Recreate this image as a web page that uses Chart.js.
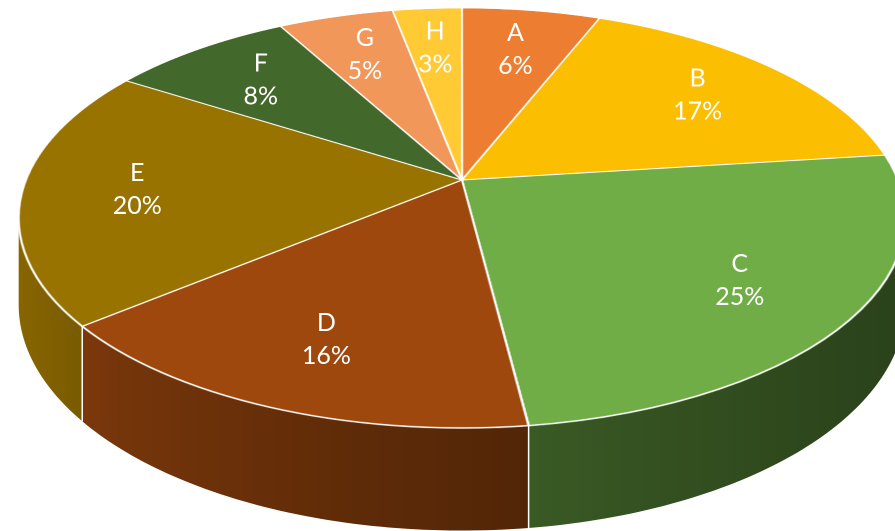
<!DOCTYPE html>
<html>
<head>
<meta charset="utf-8">
<script src="https://cdn.jsdelivr.net/npm/chart.js@4.4.1/dist/chart.umd.min.js"></script>
<style>
  html, body { margin: 0; padding: 0; background: #ffffff; }
  #wrap { width: 895px; height: 531px; position: relative; }
</style>
</head>
<body>
<div id="wrap"><canvas id="c" width="895" height="531"></canvas></div>
<script>
const categories = ['A', 'B', 'C', 'D', 'E', 'F', 'G', 'H'];
const shares = [6, 17, 25, 16, 20, 8, 5, 3];
const percentLabels = ['6%', '17%', '25%', '16%', '20%', '8%', '5%', '3%'];
const sliceColors = ['#ED7D31', '#FBBE00', '#70AD47', '#9E480E', '#997300', '#43682B', '#F1975A', '#FFCA33'];

// perspective view of the tilted disc (screen px)
const VIEW = { cx: 462, y0: 180, a: 436, b: 203.1, e: -0.181, depth: 84, labelR: 0.74 };

function project(u, v) {
  const w = 1 + VIEW.e * v;
  return [VIEW.cx + VIEW.a * u / w, VIEW.y0 + VIEW.b * v / w, w];
}
function hexToRgb(h) {
  const n = parseInt(h.slice(1), 16);
  return [(n >> 16) & 255, (n >> 8) & 255, n & 255];
}
function shade(h, f) {
  const [r, g, b] = hexToRgb(h);
  return 'rgb(' + Math.round(r * f) + ',' + Math.round(g * f) + ',' + Math.round(b * f) + ')';
}

const disc3d = {
  id: 'disc3d',
  afterDatasetsDraw(chart) {
    const canvas = chart.canvas;
    const ctx = chart.ctx;
    const s = chart.currentDevicePixelRatio;
    const arcs = chart.getDatasetMeta(0).data;
    if (!arcs.length) return;
    const scx = arcs[0].x, scy = arcs[0].y, R = arcs[0].outerRadius;

    // keep the flat pie that Chart.js drew
    const off = document.createElement('canvas');
    off.width = canvas.width; off.height = canvas.height;
    off.getContext('2d').drawImage(canvas, 0, 0);

    ctx.save();
    ctx.setTransform(1, 0, 0, 1, 0, 0);
    ctx.clearRect(0, 0, canvas.width, canvas.height);
    ctx.setTransform(s, 0, 0, s, 0, 0);

    // side walls (front part of the rim)
    const phiMin = Math.asin(-VIEW.e), phiMax = Math.PI - phiMin;
    const halfW = VIEW.a / Math.sqrt(1 - VIEW.e * VIEW.e);
    const left = VIEW.cx - halfW, right = VIEW.cx + halfW;
    arcs.forEach((arc, i) => {
      const a0 = Math.max(arc.startAngle, phiMin);
      const a1 = Math.min(arc.endAngle, phiMax);
      if (a0 >= a1) return;
      const n = Math.max(4, Math.ceil((a1 - a0) * 60));
      const top = [], bot = [];
      for (let k = 0; k <= n; k++) {
        const p = a0 + (a1 - a0) * k / n;
        const [x, y, w] = project(Math.cos(p), Math.sin(p));
        top.push([x, y]);
        bot.push([x, y + VIEW.depth / w]);
      }
      ctx.beginPath();
      ctx.moveTo(top[0][0], top[0][1]);
      top.forEach(pt => ctx.lineTo(pt[0], pt[1]));
      for (let k = bot.length - 1; k >= 0; k--) ctx.lineTo(bot[k][0], bot[k][1]);
      ctx.closePath();
      const g = ctx.createLinearGradient(left, 0, right, 0);
      for (let k = 0; k <= 10; k++) {
        const t = k / 10;
        g.addColorStop(t, shade(sliceColors[i], 0.88 - 0.5 * Math.pow(t, 0.6)));
      }
      ctx.fillStyle = g;
      ctx.fill();
    });
    ctx.strokeStyle = '#ffffff';
    ctx.lineWidth = 1.5;
    arcs.forEach((arc) => {
      const p = arc.endAngle;
      if (p > phiMin && p < phiMax) {
        const [x, y, w] = project(Math.cos(p), Math.sin(p));
        ctx.beginPath();
        ctx.moveTo(x, y);
        ctx.lineTo(x, y + VIEW.depth / w);
        ctx.stroke();
      }
    });

    // top face: re-draw the flat pie row by row in perspective
    ctx.setTransform(1, 0, 0, 1, 0, 0);
    ctx.imageSmoothingEnabled = true;
    ctx.imageSmoothingQuality = 'high';
    const inv = Y => { const d = Y - VIEW.y0; return d / (VIEW.b - VIEW.e * d); };
    const yTop = project(0, -1)[1], yBot = project(0, 1)[1];
    for (let j = Math.floor(yTop * s) - 1; j <= Math.ceil(yBot * s) + 1; j++) {
      let v0 = inv(j / s), v1 = inv((j + 1) / s);
      v0 = Math.max(-1.01, v0); v1 = Math.min(1.01, v1);
      if (v1 <= v0) continue;
      const w = 1 + VIEW.e * (v0 + v1) / 2;
      const k = VIEW.a / (R * w);
      const sy0 = (scy + v0 * R) * s;
      const sh = (v1 - v0) * R * s;
      const dx = (VIEW.cx - k * scx) * s;
      ctx.drawImage(off, 0, sy0, off.width, sh, dx, j, k * off.width, 1);
    }

    // labels
    ctx.setTransform(s, 0, 0, s, 0, 0);
    ctx.fillStyle = '#ffffff';
    ctx.font = '25px Lato, "Open Sans", sans-serif';
    ctx.textAlign = 'center';
    ctx.textBaseline = 'middle';
    arcs.forEach((arc, i) => {
      const mid = (arc.startAngle + arc.endAngle) / 2;
      const [x, y] = project(Math.cos(mid) * VIEW.labelR, Math.sin(mid) * VIEW.labelR);
      ctx.fillText(categories[i], x, y - 16.5);
      ctx.fillText(percentLabels[i], x, y + 16.5);
    });
    ctx.restore();
  }
};

new Chart(document.getElementById('c'), {
  type: 'pie',
  data: {
    labels: categories,
    datasets: [{
      data: shares,
      backgroundColor: sliceColors,
      borderColor: '#ffffff',
      borderWidth: 1.2
    }]
  },
  options: {
    responsive: false,
    animation: false,
    devicePixelRatio: 2,
    events: [],
    layout: { padding: { left: 187, right: 188, top: 5, bottom: 6 } },
    plugins: {
      legend: { display: false },
      tooltip: { enabled: false },
      title: { display: false }
    }
  },
  plugins: [disc3d]
});
</script>
</body>
</html>
